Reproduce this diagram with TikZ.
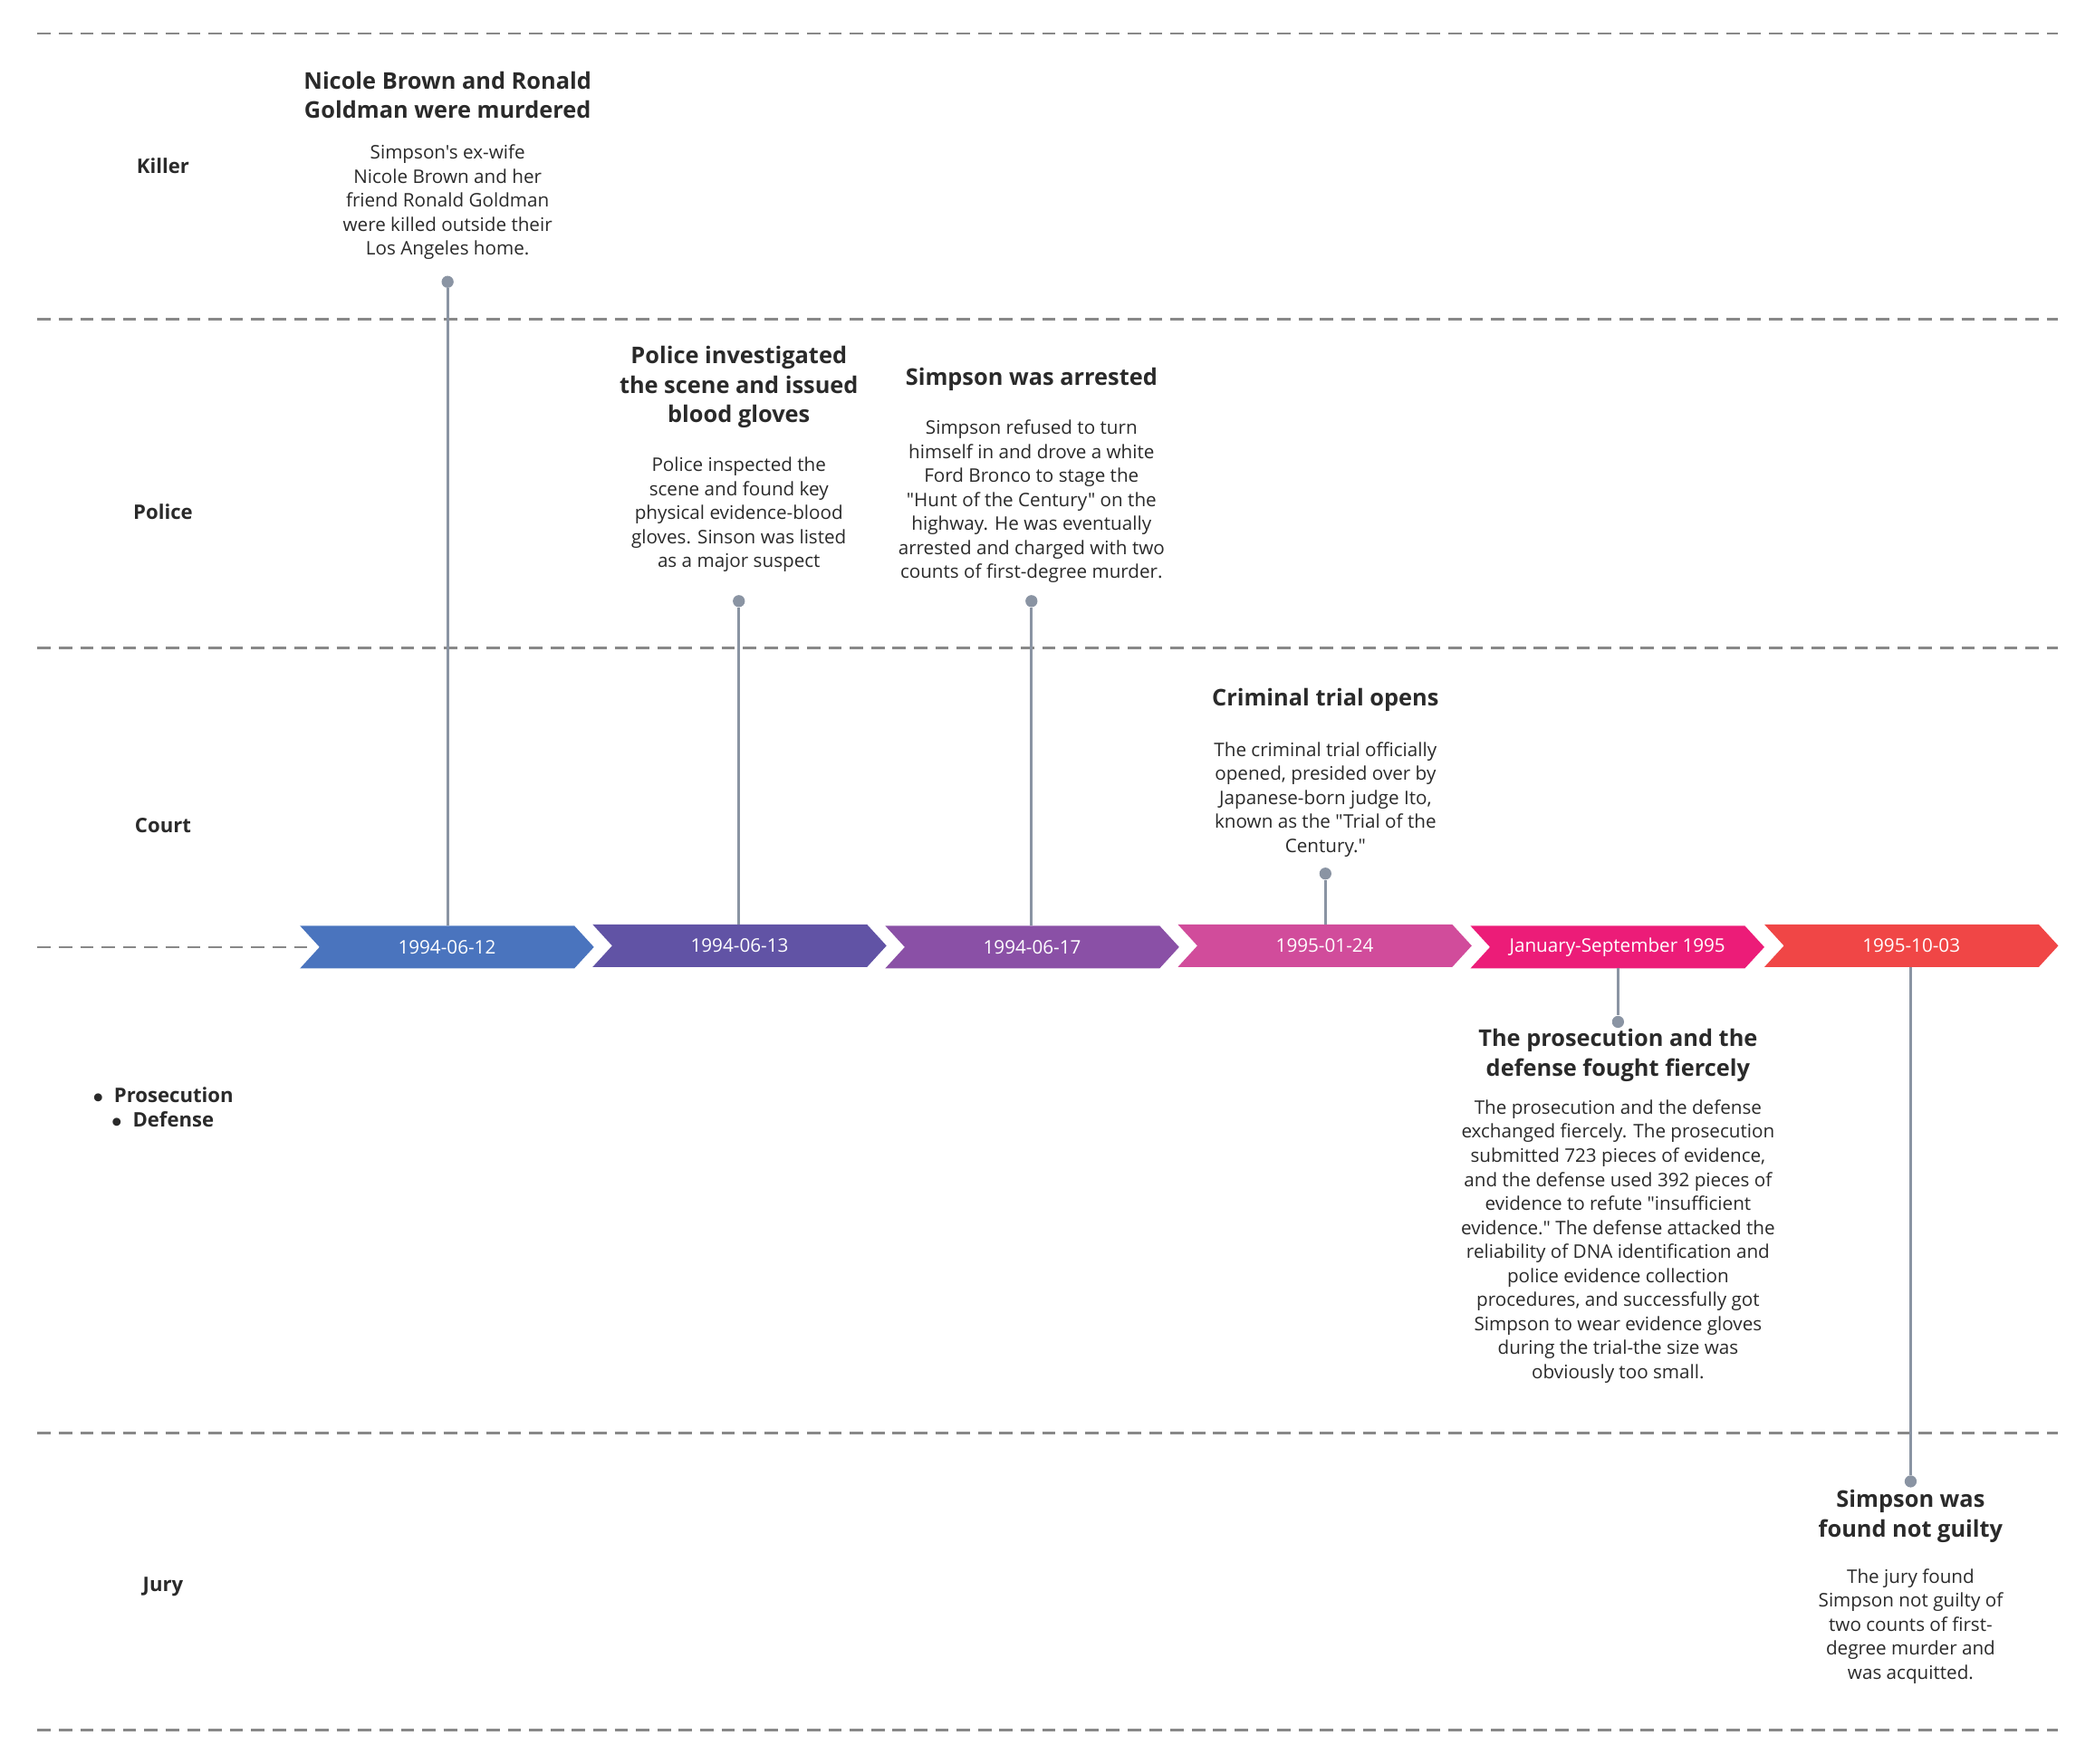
\documentclass[tikz,border=0pt]{standalone}
\usepackage{fontspec}
\setmainfont{Open Sans}[Ligatures=TeXOff]
\usetikzlibrary{shapes.symbols}
\definecolor{c1}{HTML}{4A74BE}\definecolor{c2}{HTML}{6153A5}\definecolor{c3}{HTML}{8A50A6}
\definecolor{c4}{HTML}{D14C9B}\definecolor{c5}{HTML}{EC1C78}\definecolor{c6}{HTML}{F04646}
\definecolor{pin}{HTML}{8A94A3}\definecolor{txt}{HTML}{2A2A2A}\definecolor{dashc}{HTML}{888888}
\begin{document}
\begin{tikzpicture}[x=0.5pt,y=-0.5pt,
  sepline/.style={draw=dashc, line width=0.9pt, dash pattern=on 5pt off 3pt},
  lane/.style={font=\fontsize{7.5}{9}\selectfont\bfseries, text=txt},
  chev/.style={signal, signal to=east, signal from=west, signal pointer angle=95, fill=#1, draw=none,
     minimum width=110pt, minimum height=16pt, inner sep=0pt, text=white, font=\fontsize{7}{9}\selectfont},
  ttl/.style={font=\fontsize{8.6}{11}\selectfont\bfseries, text=txt, align=center, anchor=north, inner sep=0pt},
  body/.style={font=\fontsize{7}{9}\selectfont, text=txt, align=center, anchor=north, inner sep=0pt},
  dot/.style={circle, fill=pin, inner sep=0pt, minimum size=4.5pt},
  stem/.style={draw=pin, line width=1pt}]
\useasboundingbox (0,0) rectangle (1568,1320);
\foreach \y in {25,239,485,1073,1295} \draw[sepline] (28,\y) -- (1540,\y);
\draw[sepline] (28,709) -- (232,709);
\node[lane] (lk) at (122,124) {Killer};
\node[lane] (lp) at (122,383) {Police};
\node[lane] (lc) at (122,618) {Court};
\node[lane] (lpd) at (122,831) {\begin{tabular}{@{}l@{}}$\bullet$\ \ Prosecution\\ \hspace{7pt}$\bullet$\ \ Defense\end{tabular}};
\node[lane] (lj) at (122,1188) {Jury};
\node[chev=c1] (k1) at (334.5,709) {1994-06-12};
\node[chev=c2] (k2) at (553.5,708) {1994-06-13};
\node[chev=c3] (k3) at (772.5,709) {1994-06-17};
\node[chev=c4] (k4) at (991.5,708) {1995-01-24};
\node[chev=c5] (k5) at (1210.5,709) {January-September 1995};
\node[chev=c6] (k6) at (1430.5,708) {1995-10-03};
% event 1
\node[ttl] (t1) at (335,53) {Nicole Brown and Ronald\\Goldman were murdered};
\node[body] (b1) at (335,108) {Simpson's ex-wife\\Nicole Brown and her\\friend Ronald Goldman\\were killed outside their\\Los Angeles home.};
\node[dot] (d1) at (335,211) {};
\draw[stem] (d1) -- (335,693);
% event 2
\node[ttl] (t2) at (553,259) {Police investigated\\the scene and issued\\blood gloves};
\node[body] (b2) at (553,342) {Police inspected the\\scene and found key\\physical evidence-blood\\gloves. Sinson was listed\\as a major suspect};
\node[dot] (d2) at (553,450) {};
\draw[stem] (d2) -- (553,692);
% event 3
\node[ttl] (t3) at (772,275) {Simpson was arrested};
\node[body] (b3) at (772,314) {Simpson refused to turn\\himself in and drove a white\\Ford Bronco to stage the\\"Hunt of the Century" on the\\highway. He was eventually\\arrested and charged with two\\counts of first-degree murder.};
\node[dot] (d3) at (772,450) {};
\draw[stem] (d3) -- (772,693);
% event 4
\node[ttl] (t4) at (992,515) {Criminal trial opens};
\node[body] (b4) at (992,555) {The criminal trial officially\\opened, presided over by\\Japanese-born judge Ito,\\known as the "Trial of the\\Century."};
\node[dot] (d4) at (992,654) {};
\draw[stem] (d4) -- (992,692);
% event 5
\node[dot] (d5) at (1211,765) {};
\draw[stem] (1211,725) -- (d5);
\node[ttl] (t5) at (1211,770) {The prosecution and the\\defense fought fiercely};
\node[body] (b5) at (1211,823) {The prosecution and the defense\\exchanged fiercely. The prosecution\\submitted 723 pieces of evidence,\\and the defense used 392 pieces of\\evidence to refute "insufficient\\evidence." The defense attacked the\\reliability of DNA identification and\\police evidence collection\\procedures, and successfully got\\Simpson to wear evidence gloves\\during the trial-the size was\\obviously too small.};
% event 6
\node[dot] (d6) at (1430,1109) {};
\draw[stem] (1430,724) -- (d6);
\node[ttl] (t6) at (1430,1115) {Simpson was\\found not guilty};
\node[body] (b6) at (1430,1174) {The jury found\\Simpson not guilty of\\two counts of first-\\degree murder and\\was acquitted.};
\end{tikzpicture}
\end{document}
